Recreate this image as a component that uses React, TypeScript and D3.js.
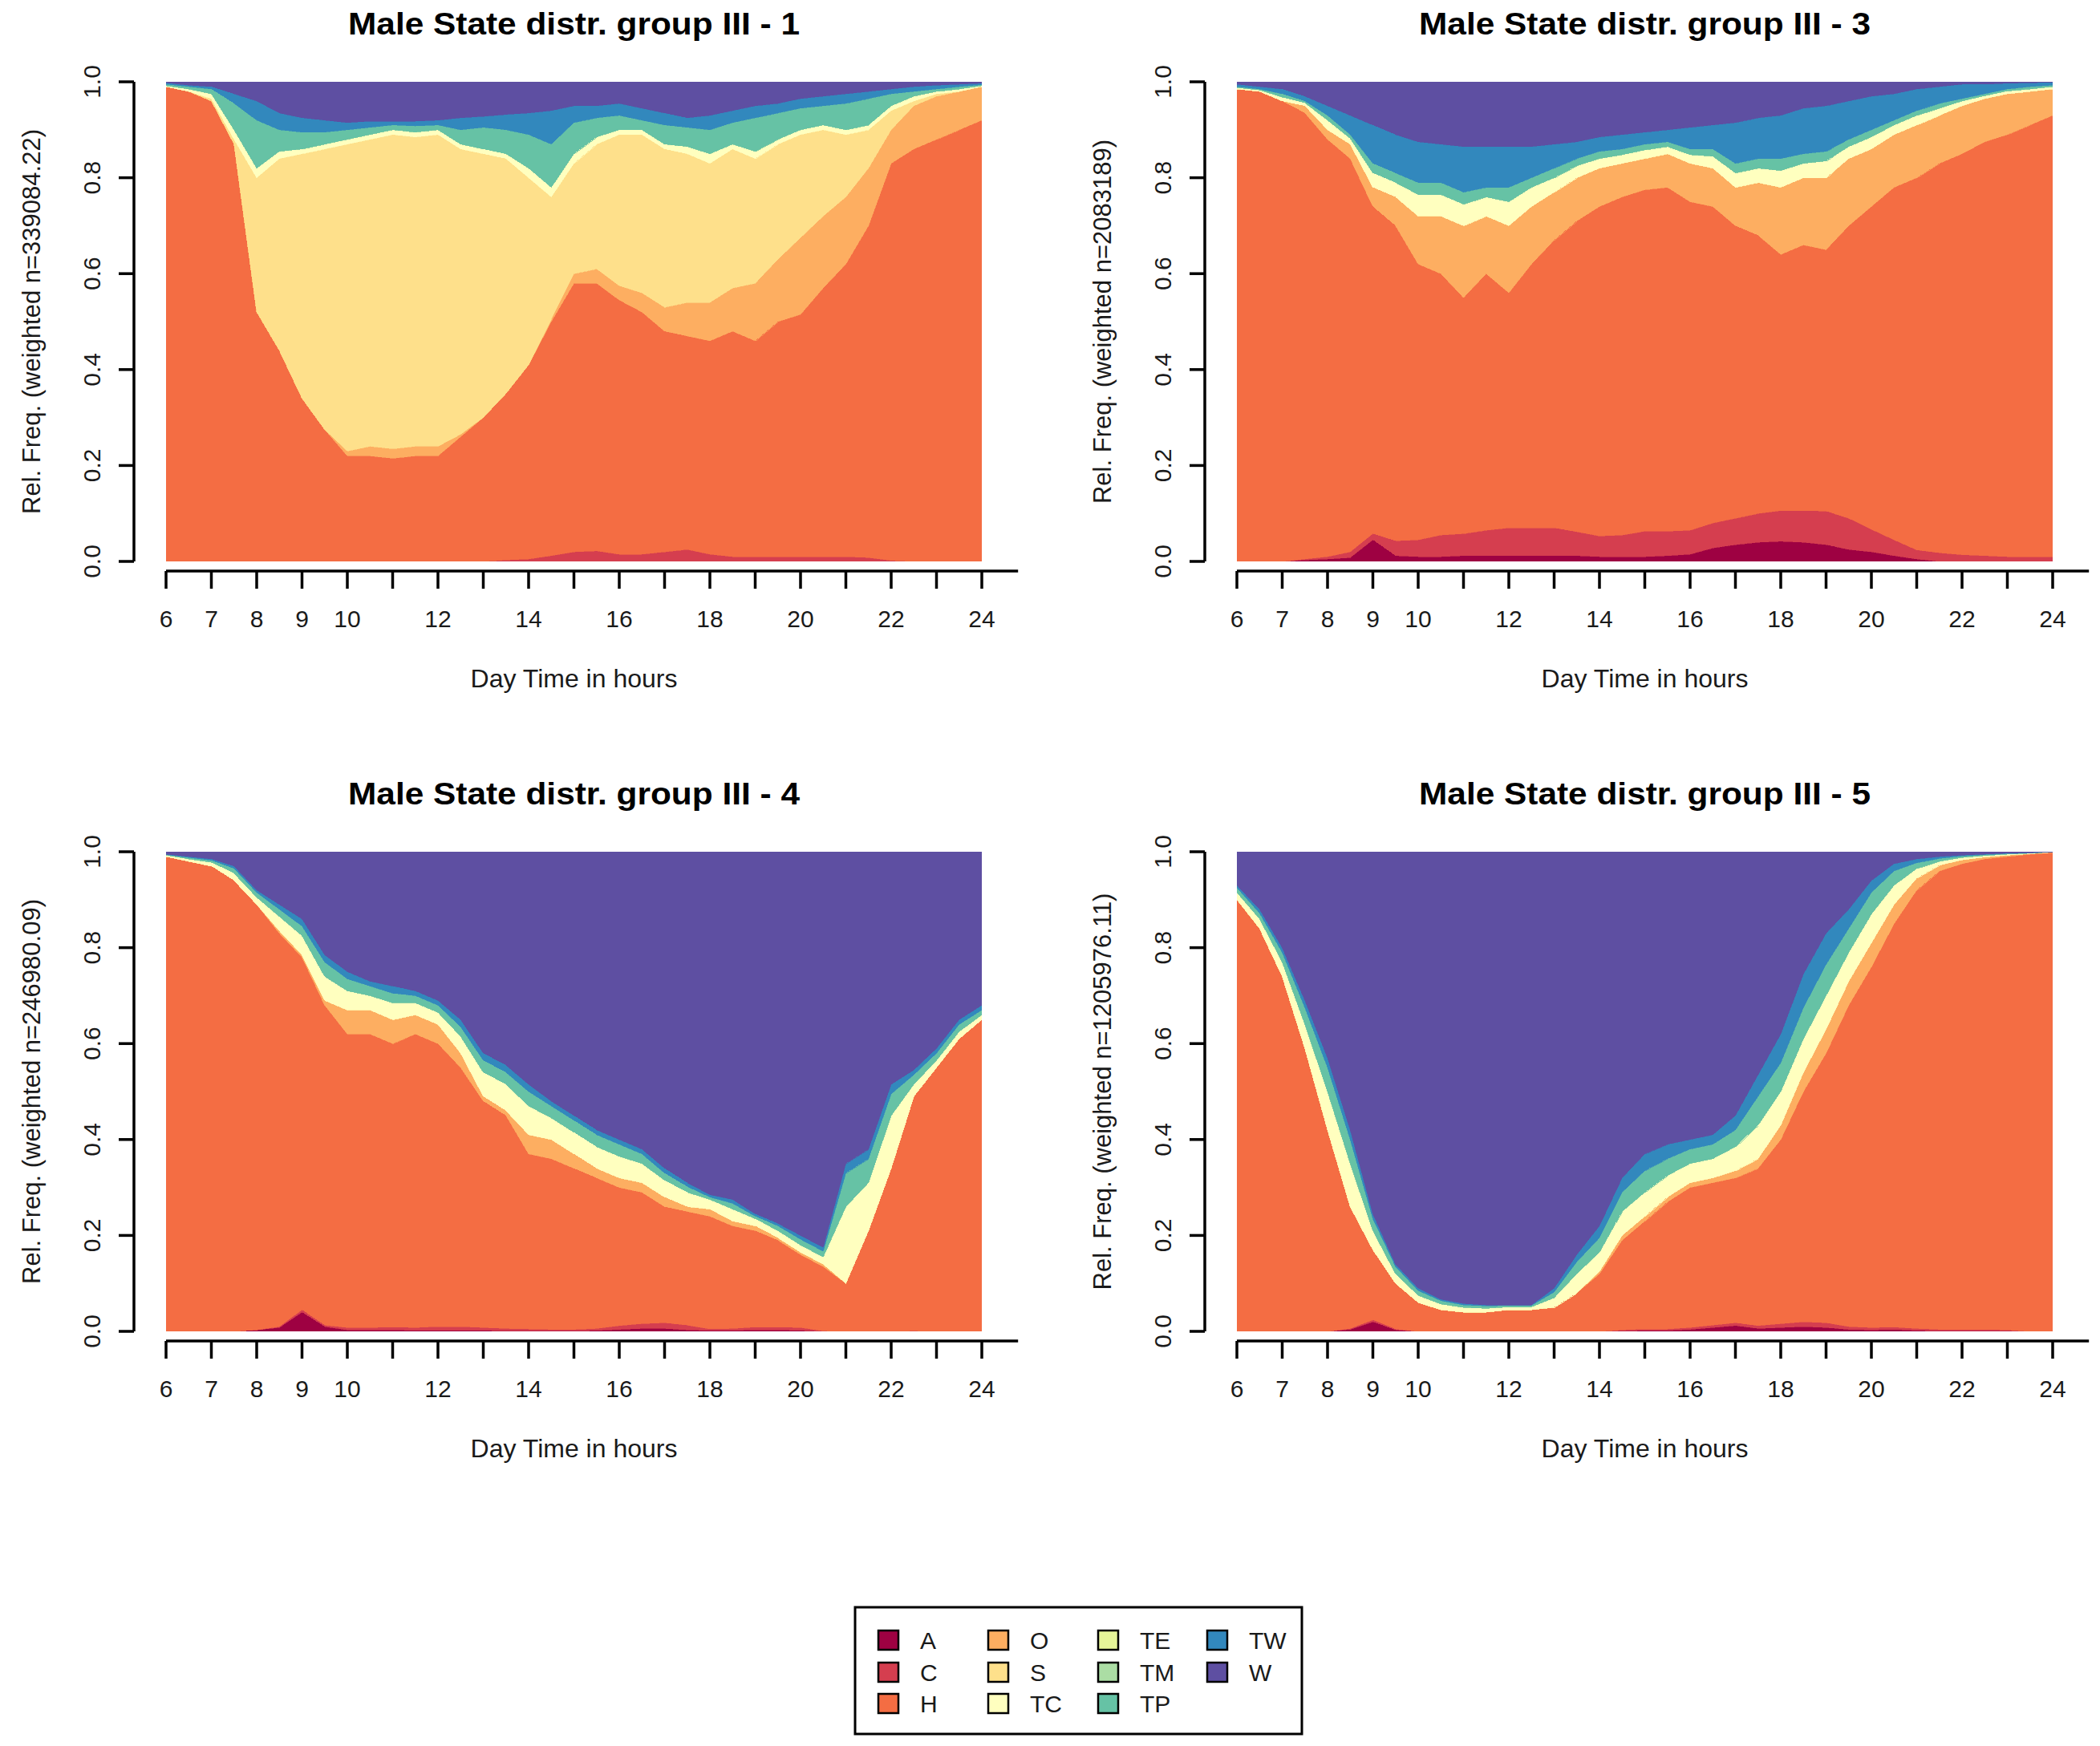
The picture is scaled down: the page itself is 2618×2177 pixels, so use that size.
import * as d3 from 'd3'

const WIDTH = 2618
const HEIGHT = 2177

const states = ['A', 'C', 'H', 'O', 'S', 'TC', 'TE', 'TM', 'TP', 'TW', 'W']
const stateColors = ['#9E0142', '#D53E4F', '#F46D43', '#FDAE61', '#FEE08B', '#FFFFBF', '#E6F598', '#ABDDA4', '#66C2A5', '#3288BD', '#5E4FA2']

// half-hour grid 6:00 .. 24:00
const hours = d3.range(6, 24.001, 0.5)
const xTicks = d3.range(6, 25)
const xLabels = [6, 7, 8, 9, 10, 12, 14, 16, 18, 20, 22, 24]
const yTicks = [0, 0.2, 0.4, 0.6, 0.8, 1]

// group III - 1
const g1C = [0, 0, 0, 0, 0, 0, 0, 0, 0, 0, 0, 0, 0, 0, 0, .003, .005, .012, .02, .022, .015, .015, .02, .025, .015, .01, .01, .01, .01, .01, .01, .008, .002, 0, 0, 0, 0]
const g1H = [.99, .98, .96, .87, .52, .44, .34, .275, .22, .22, .215, .22, .22, .26, .30, .347, .405, .488, .56, .558, .53, .505, .46, .445, .445, .47, .45, .49, .505, .56, .61, .692, .828, .86, .88, .90, .92]
const g1O = [0, 0, 0, 0, 0, 0, 0, 0, .01, .02, .02, .02, .02, .005, 0, 0, 0, .005, .02, .03, .03, .04, .05, .07, .08, .09, .12, .13, .16, .15, .14, .12, .07, .09, .09, .08, .07]
const g1S = [0, 0, .005, .01, .28, .40, .51, .585, .64, .64, .655, .645, .65, .595, .55, .49, .39, .255, .23, .26, .315, .33, .33, .31, .29, .29, .26, .24, .215, .18, .13, .08, .04, .01, .005, 0, 0]
const g1TC = [.002, .005, .01, .02, .02, .015, .01, .01, .01, .01, .01, .01, .01, .01, .01, .01, .02, .02, .02, .015, .01, .01, .01, .015, .02, .01, .015, .01, .01, .01, .01, .01, .01, .01, .005, .005, .002]
const g1TP = [.003, .005, .01, .055, .10, .045, .035, .025, .02, .015, .01, .013, .01, .03, .045, .05, .07, .09, .065, .04, .03, .02, .04, .04, .05, .045, .07, .055, .045, .04, .055, .055, .025, .01, .005, .005, .002]
const g1TW = [.003, .003, .005, .02, .04, .035, .03, .025, .015, .013, .008, .01, .01, .025, .023, .032, .045, .07, .035, .025, .025, .025, .025, .02, .03, .025, .025, .02, .02, .02, .02, .015, .01, .01, .008, .005, .003]

// group III - 3
const g2A = [0, 0, 0, .003, .005, .008, .045, .012, .01, .01, .012, .012, .012, .012, .012, .012, .01, .01, .01, .012, .015, .028, .035, .04, .042, .04, .035, .025, .02, .012, .005, 0, 0, 0, 0, 0, 0]
const g2C = [0, 0, 0, .002, .005, .012, .013, .031, .035, .045, .046, .053, .058, .058, .058, .05, .043, .045, .053, .051, .05, .052, .055, .06, .064, .066, .07, .065, .047, .033, .019, .018, .014, .012, .01, .01, .01]
const g2H = [.985, .98, .96, .93, .87, .82, .682, .657, .575, .545, .492, .535, .49, .55, .60, .648, .687, .705, .712, .717, .685, .66, .61, .58, .534, .554, .545, .61, .673, .735, .776, .812, .836, .863, .88, .90, .92]
const g2O = [0, 0, 0, .015, .02, .03, .04, .06, .10, .12, .15, .12, .14, .12, .10, .09, .08, .07, .065, .07, .08, .08, .08, .11, .14, .14, .15, .14, .12, .11, .11, .10, .10, .09, .085, .07, .055]
const g2TC = [.003, .003, .008, .006, .02, .012, .03, .03, .045, .045, .045, .04, .05, .04, .03, .025, .02, .018, .018, .015, .018, .025, .03, .03, .035, .03, .035, .025, .025, .02, .02, .015, .01, .006, .006, .005, .005]
const g2TP = [.002, .002, .007, .004, .01, .008, .02, .02, .025, .025, .025, .02, .03, .02, .02, .015, .015, .012, .012, .01, .012, .015, .02, .02, .025, .02, .02, .015, .015, .01, .01, .01, .005, .004, .004, .005, .003]
const g2TW = [.005, .005, .01, .01, .02, .04, .08, .08, .085, .08, .095, .085, .085, .065, .05, .035, .03, .03, .025, .025, .045, .05, .085, .085, .09, .095, .095, .08, .07, .055, .045, .035, .03, .02, .012, .008, .006]

// group III - 4
const g3A = [0, 0, 0, 0, .003, .008, .04, .01, .003, .003, .003, .002, .002, .002, .002, .001, .001, .001, .001, .002, .004, .006, .006, .003, .002, .002, .003, .003, .002, 0, 0, 0, 0, 0, 0, 0, 0]
const g3C = [0, 0, 0, 0, 0, .002, .005, .003, .005, .005, .006, .006, .008, .008, .006, .005, .004, .003, .003, .004, .008, .01, .012, .01, .003, .004, .006, .006, .006, .001, 0, 0, 0, .001, 0, 0, 0]
const g3H = [.99, .98, .97, .94, .887, .82, .735, .667, .612, .612, .591, .612, .59, .54, .472, .444, .365, .356, .336, .314, .288, .274, .242, .237, .235, .214, .201, .181, .152, .134, .10, .21, .34, .489, .55, .61, .65]
const g3O = [0, 0, 0, 0, 0, .005, .005, .01, .05, .05, .05, .04, .04, .03, .01, .01, .04, .04, .03, .02, .02, .02, .02, .01, .015, .01, .01, .005, .005, .005, 0, 0, 0, 0, 0, 0, 0]
const g3TC = [.003, .005, .008, .015, .015, .03, .04, .05, .04, .03, .035, .025, .025, .035, .05, .055, .06, .045, .045, .045, .045, .04, .035, .03, .02, .025, .015, .015, .015, .015, .16, .10, .11, .025, .015, .015, .01]
const g3TP = [.001, .003, .004, .01, .01, .015, .02, .03, .025, .02, .02, .015, .015, .02, .025, .025, .03, .025, .025, .025, .025, .02, .015, .012, .005, .012, .005, .01, .012, .012, .07, .05, .045, .02, .015, .015, .01]
const g3TW = [.001, .002, .003, .005, .005, .01, .015, .015, .015, .01, .015, .01, .01, .015, .015, .015, .015, .01, .01, .01, .01, .01, .01, .008, .005, .008, .005, .005, .008, .008, .02, .02, .02, .01, .01, .01, .01]

// group III - 5
const g4A = [0, 0, 0, 0, 0, .004, .02, .003, 0, 0, 0, 0, 0, 0, 0, 0, 0, .001, .002, .002, .004, .008, .012, .006, .008, .01, .008, .004, .003, .004, .002, .001, .001, .001, .001, 0, 0]
const g4C = [0, 0, 0, 0, 0, .002, .004, .002, 0, 0, 0, 0, 0, 0, 0, 0, 0, .002, .003, .003, .004, .005, .006, .006, .008, .01, .01, .006, .005, .005, .004, .003, .003, .003, .002, 0, 0]
const g4H = [.90, .84, .74, .59, .42, .254, .146, .095, .06, .045, .04, .04, .045, .045, .05, .08, .12, .187, .225, .265, .292, .297, .302, .328, .384, .48, .562, .67, .752, .841, .914, .956, .971, .981, .987, .995, .998]
const g4O = [0, 0, 0, 0, 0, 0, 0, 0, 0, 0, 0, 0, 0, 0, 0, 0, .005, .01, .01, .01, .01, .01, .015, .02, .03, .04, .05, .05, .05, .04, .025, .012, .008, .004, .003, .001, .001]
const g4TC = [.015, .02, .03, .05, .08, .09, .04, .02, .015, .012, .01, .008, .006, .006, .02, .04, .04, .05, .05, .045, .04, .04, .05, .07, .07, .07, .07, .06, .06, .04, .02, .008, .005, .003, .002, .001, .0005]
const g4TP = [.01, .012, .02, .035, .05, .05, .025, .015, .01, .007, .005, .005, .003, .003, .012, .025, .03, .04, .045, .035, .03, .03, .035, .06, .06, .065, .065, .05, .045, .03, .012, .006, .003, .002, .001, .0005, .0003]
const g4TW = [.005, .008, .01, .015, .02, .02, .01, .005, .005, .003, .003, .002, .001, .001, .008, .015, .025, .03, .035, .03, .02, .02, .03, .045, .06, .07, .065, .04, .025, .015, .008, .004, .002, .001, .001, .0005, .0002]

const panels = [
  { title: 'Male State distr. group III - 1', ylab: 'Rel. Freq. (weighted n=339084.22)', col: 0, row: 0,
    series: { C: g1C, H: g1H, O: g1O, S: g1S, TC: g1TC, TP: g1TP, TW: g1TW } },
  { title: 'Male State distr. group III - 3', ylab: 'Rel. Freq. (weighted n=2083189)', col: 1, row: 0,
    series: { A: g2A, C: g2C, H: g2H, O: g2O, TC: g2TC, TP: g2TP, TW: g2TW } },
  { title: 'Male State distr. group III - 4', ylab: 'Rel. Freq. (weighted n=246980.09)', col: 0, row: 1,
    series: { A: g3A, C: g3C, H: g3H, O: g3O, TC: g3TC, TP: g3TP, TW: g3TW } },
  { title: 'Male State distr. group III - 5', ylab: 'Rel. Freq. (weighted n=1205976.11)', col: 1, row: 1,
    series: { A: g4A, C: g4C, H: g4H, O: g4O, TC: g4TC, TP: g4TP, TW: g4TW } },
]

const plotW = 1017
const plotH = 598
const colX = [207, 1542]
const rowY = [102, 1062]
const font = '"Liberation Sans", Arial, Helvetica, sans-serif'
const textColor = '#1a1a1a'

const color = d3.scaleOrdinal<string, string>().domain(states).range(stateColors)

const Panel = ({ cfg, idx }) => {
  const x0 = colX[cfg.col]
  const y0 = rowY[cfg.row]
  const x = d3.scaleLinear().domain([6, 24]).range([x0, x0 + plotW])
  const y = d3.scaleLinear().domain([0, 1]).range([y0 + plotH, y0])

  const rows = hours.map((h, i) => {
    const r: any = { hour: h }
    let sum = 0
    states.forEach((s) => {
      if (s === 'W') return
      const v = cfg.series[s]?.[i] ?? 0
      r[s] = v
      sum += v
    })
    r.W = Math.max(0, 1 - sum)
    return r
  })

  const layers = d3.stack().keys(states)(rows)
  const area = d3
    .area<any>()
    .x((d) => x(d.data.hour))
    .y0((d) => y(d[0]))
    .y1((d) => y(d[1]))

  const axisY = y0 + plotH + 12
  const yAxisX = x0 - 40
  const midY = y0 + plotH / 2

  return (
    <g>
      <clipPath id={`clip${idx}`}>
        <rect x={x0} y={y0} width={plotW} height={plotH} />
      </clipPath>
      <g clipPath={`url(#clip${idx})`}>
        {layers.map((layer) => (
          <path
            key={layer.key}
            d={area(layer) || ''}
            fill={color(layer.key)}
            stroke={color(layer.key)}
            strokeWidth={0.6}
            shapeRendering='crispEdges'
          />
        ))}
      </g>

      <text
        x={x0 + plotW / 2}
        y={y0 - 59}
        textAnchor='middle'
        fontFamily={font}
        fontWeight='bold'
        fontSize={39}
        textLength={563}
        lengthAdjust='spacingAndGlyphs'
        fill='#000'
      >
        {cfg.title}
      </text>

      {/* y axis */}
      <line x1={yAxisX} x2={yAxisX} y1={y(0)} y2={y(1)} stroke='#000' strokeWidth={3.5} />
      {yTicks.map((t) => (
        <g key={t}>
          <line x1={yAxisX - 19} x2={yAxisX} y1={y(t)} y2={y(t)} stroke='#000' strokeWidth={3.5} />
          <text
            transform={`translate(${x0 - 82},${y(t)}) rotate(-90)`}
            textAnchor='middle'
            fontFamily={font}
            fontSize={30}
            fill={textColor}
          >
            {t.toFixed(1)}
          </text>
        </g>
      ))}
      <text
        transform={`translate(${x0 - 157},${midY}) rotate(-90)`}
        textAnchor='middle'
        fontFamily={font}
        fontSize={31}
        fill={textColor}
      >
        {cfg.ylab}
      </text>

      {/* x axis */}
      <line x1={x(6)} x2={x(24.8)} y1={axisY} y2={axisY} stroke='#000' strokeWidth={3.5} />
      {xTicks.map((t) => (
        <line key={t} x1={x(t)} x2={x(t)} y1={axisY} y2={axisY + 22} stroke='#000' strokeWidth={3.5} />
      ))}
      {xLabels.map((t) => (
        <text
          key={t}
          x={x(t)}
          y={y0 + plotH + 82}
          textAnchor='middle'
          fontFamily={font}
          fontSize={30}
          fill={textColor}
        >
          {t}
        </text>
      ))}
      <text
        x={x0 + plotW / 2}
        y={y0 + plotH + 157}
        textAnchor='middle'
        fontFamily={font}
        fontSize={32}
        fill={textColor}
      >
        Day Time in hours
      </text>
    </g>
  )
}

const legendCols = [1095, 1232, 1369, 1505]
const legendRows = [2045, 2085, 2124]

const Legend = () => (
  <g>
    <rect x={1066} y={2004} width={557} height={158} fill='#fff' stroke='#000' strokeWidth={3} />
    {states.map((s, i) => {
      const cx = legendCols[Math.floor(i / 3)]
      const cy = legendRows[i % 3]
      return (
        <g key={s}>
          <rect x={cx} y={cy - 12} width={25} height={24} fill={color(s)} stroke='#000' strokeWidth={2.5} />
          <text x={cx + 52} y={cy + 11} fontFamily={font} fontSize={30} fill={textColor}>
            {s}
          </text>
        </g>
      )
    })}
  </g>
)

const App = () => {
  return (
    <svg
      width={WIDTH}
      height={HEIGHT}
      style={{ position: 'absolute', left: 0, top: 0, background: '#fff' }}
    >
      <rect width={WIDTH} height={HEIGHT} fill='#fff' />
      {panels.map((p, i) => (
        <Panel key={p.title} cfg={p} idx={i} />
      ))}
      <Legend />
    </svg>
  )
}

export default App
